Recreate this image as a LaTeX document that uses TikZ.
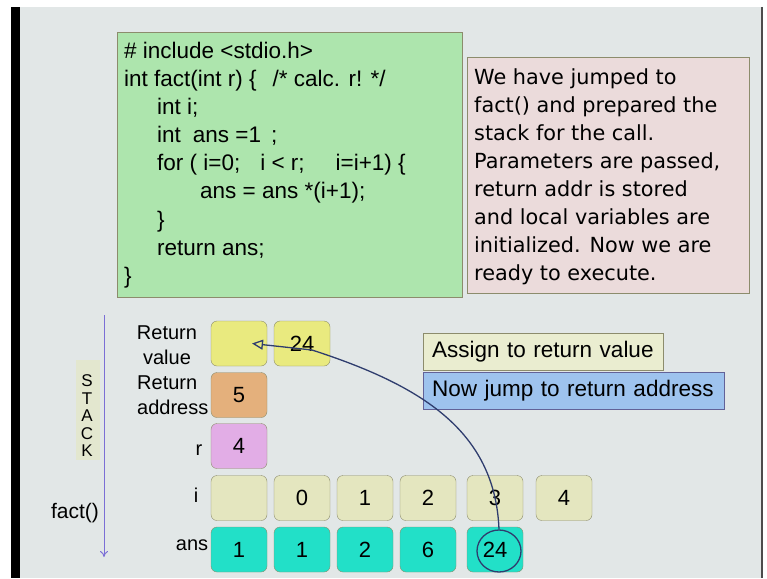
\documentclass[tikz,border=0pt]{standalone}
\usepackage{fontspec}
\setmainfont{Liberation Sans}
\newfontfamily\notefont{DejaVu Sans}
\usetikzlibrary{positioning,arrows.meta,shapes.geometric}

\definecolor{slidebg}{HTML}{E2E7E7}
\definecolor{codefill}{HTML}{ADE5AD}
\definecolor{notefill}{HTML}{EBDBDB}
\definecolor{boxline}{HTML}{8C8C6C}
\definecolor{rvfill}{HTML}{E9EA7F}
\definecolor{rafill}{HTML}{E4B07C}
\definecolor{rfill}{HTML}{E2ADE6}
\definecolor{ifill}{HTML}{E4E6BF}
\definecolor{ansfill}{HTML}{22E0C8}
\definecolor{assignfill}{HTML}{EAEDD0}
\definecolor{jumpfill}{HTML}{9EC3EE}
\definecolor{stackline}{HTML}{7B6FD6}
\definecolor{inkline}{HTML}{2F3D6E}

\begin{document}
\begin{tikzpicture}[x=1pt,y=-1pt,
    cell/.style={draw=boxline, rounded corners=6pt, minimum width=56pt,
      minimum height=45pt, inner sep=0pt, font=\fontsize{22}{22}\selectfont},
    codeline/.style={anchor=base west, inner sep=0pt, font=\fontsize{22.5}{27}\selectfont},
    noteline/.style={anchor=base west, inner sep=0pt, font=\notefont\fontsize{20.8}{28}\selectfont},
    stacklabel/.style={inner sep=0pt, font=\fontsize{20}{25}\selectfont},
    callout/.style={draw=boxline, anchor=north west, minimum height=37pt, inner xsep=9pt,
      inner ysep=0pt, align=left, font=\fontsize{22.5}{27}\selectfont},
    ink/.style={draw=inkline, line width=1.3pt}]

    \useasboundingbox (0,0) rectangle (767,578);

    % Draw the slide behind everything
    \fill[white] (0,0) rectangle (767,578);
    \fill[slidebg] (20,7) rectangle (761,578);
    \fill[black] (11,7) rectangle (20,578);
    \draw[gray!60!black, line width=2pt] (762,7) -- (762,578);

    % Draw the code box
    \node[draw=boxline, fill=codefill, minimum width=345pt, minimum height=265pt,
      anchor=north west, inner sep=0pt] (codebox) at (117,32) {};
    \node[codeline] (code1) at (124,58) {\#~include <stdio.h>};
    \node[codeline] (code2) at (124,86) {int fact(int r) \{\hspace{16pt}/* calc. r! */};
    \node[codeline] (code3) at (157,114) {int i;};
    \node[codeline] (code4) at (157,142) {int\hspace{12pt}ans =1\hspace{10pt};};
    \node[codeline] (code5) at (157,170) {for ( i=0;\hspace{20pt}i < r;\hspace{31pt}i=i+1) \{};
    \node[codeline] (code6) at (200,198.5) {ans = ans *(i+1);};
    \node[codeline] (code7) at (157,227) {\}};
    \node[codeline] (code8) at (157,255) {return ans;};
    \node[codeline] (code9) at (124,283) {\}};

    % Draw the note box
    \node[draw=boxline, fill=notefill, minimum width=282pt, minimum height=236pt,
      anchor=north west, inner sep=0pt] (notebox) at (467,57) {};
    \foreach \t [count=\k] in {We have jumped to, fact() and prepared the,
        stack for the call., {Parameters are passed,}, return addr is stored,
        and local variables are, initialized. Now we are, ready to execute.}
      \node[noteline] (note\k) at (474,84+28*\k-28) {\t};

    % Draw the stack direction
    \fill[ifill!60!slidebg] (76,360) rectangle (100,460);
    \node[stacklabel, align=center, font=\fontsize{17}{17.5}\selectfont] (stackword) at (87,416)
      {S\\T\\A\\C\\K};
    \coordinate (stacktop) at (104,315);
    \coordinate (stackbot) at (104,557);
    \draw[stackline, line width=1pt, -{To[length=6pt,width=8pt]}] (stacktop) -- (stackbot);
    \node[stacklabel, font=\fontsize{21}{21}\selectfont] (fname) at (75,513) {fact()};

    % Draw the frame of fact()
    \node[cell, fill=rvfill] (rv) at (239,343.5) {};
    \node[cell, fill=rvfill] (rv24) at (302,343.5) {24};
    \node[cell, fill=rafill] (ra) at (239,395) {5};
    \node[cell, fill=rfill] (rr) at (239,446) {4};
    \foreach \xc/\v [count=\k] in {239/{},302/0,365/1,428/2,495/3,564/4}
      \node[cell, fill=ifill] (i\k) at (\xc,498) {\v};
    \foreach \xc/\v [count=\k] in {239/1,302/1,365/2,428/6,495/24}
      \node[cell, fill=ansfill] (a\k) at (\xc,549.5) {\v};

    % Labels of the frame
    \node[stacklabel, align=center] (lrv) at (167,345.5) {Return\\value};
    \node[stacklabel, align=left, anchor=west] (lra) at (137,395.5) {Return\\address};
    \node[stacklabel] (lr) at (199,450) {r};
    \node[stacklabel] (li) at (196,495) {i};
    \node[stacklabel] (lans) at (192,545) {ans};

    % Callouts
    \node[callout, fill=assignfill, text width=222pt] (assign) at (423,333) {Assign to return value};
    \node[callout, fill=jumpfill, draw=boxline!70!blue, text width=283pt] (jump) at (423,372)
      {Now jump to return address};

    % Ring round the result and the arrow back to return value
    \node[ink, ellipse, minimum width=44pt, minimum height=42pt, inner sep=0pt] (ring) at (499,551) {};
    \coordinate (rvtip) at ([xshift=13pt]rv.center);
    \draw[ink, -{Triangle[open,length=11pt,width=10pt]}]
      (ring.north) .. controls (495,430) and (420,385) .. (312,350) -- (rvtip);
\end{tikzpicture}
\end{document}
